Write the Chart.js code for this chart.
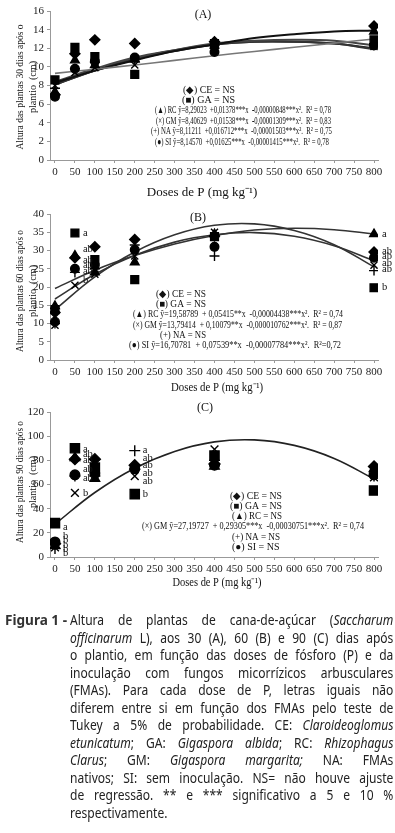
<!DOCTYPE html>
<html>
<head>
<meta charset="utf-8">
<script src="https://cdn.jsdelivr.net/npm/chart.js@4.4.1/dist/chart.umd.min.js"></script>
<style>
  body { margin: 0; background: #fff; }
  #page { position: relative; width: 395px; height: 833px; overflow: hidden; background: #fff; }
  .panel { position: absolute; left: 0; width: 395px; }
  #cap { position: absolute; left: 0; top: 611px; width: 395px; font-family: 'Noto Sans', sans-serif; font-size: 14px; color: #222; }
  #cap .fig { position: absolute; left: 5px; top: 0; font-weight: bold; white-space: nowrap; transform-origin: left center; line-height: 17.5px; color: #333; }
  #cap .ln { position: absolute; left: 70px; width: 376px; white-space: nowrap; line-height: 17.5px; transform-origin: left center; }
</style>
</head>
<body>
<div id="page">
  <div class="panel" style="top:0;height:205px"><canvas id="chartA"></canvas></div>
  <div class="panel" style="top:200px;height:205px"><canvas id="chartB"></canvas></div>
  <div class="panel" style="top:400px;height:202px"><canvas id="chartC"></canvas></div>
  <div id="cap">
    <div class="fig" style="top:0">Figura 1 -</div>
    <div class="ln" style="top:0"><span>Altura de plantas de cana-de-açúcar (<i>Saccharum</i></span></div>
    <div class="ln" style="top:17.5px"><span><i>officinarum</i> L), aos 30 (A), 60 (B) e 90 (C) dias após</span></div>
    <div class="ln" style="top:35px"><span>o plantio, em função das doses de fósforo (P) e da</span></div>
    <div class="ln" style="top:52.5px"><span>inoculação com fungos micorrízicos arbusculares</span></div>
    <div class="ln" style="top:70px"><span>(FMAs). Para cada dose de P, letras iguais não</span></div>
    <div class="ln" style="top:87.5px"><span>diferem entre si em função dos FMAs pelo teste de</span></div>
    <div class="ln" style="top:105px"><span>Tukey a 5% de probabilidade. CE: <i>Claroideoglomus</i></span></div>
    <div class="ln" style="top:122.5px"><span><i>etunicatum</i>; GA: <i>Gigaspora albida</i>; RC: <i>Rhizophagus</i></span></div>
    <div class="ln" style="top:140px"><span><i>Clarus</i>; GM: <i>Gigaspora margarita;</i> NA: FMAs</span></div>
    <div class="ln" style="top:157.5px"><span>nativos; SI: sem inoculação. NS= não houve ajuste</span></div>
    <div class="ln" style="top:175px"><span>de regressão. ** e *** significativo a 5 e 10 %</span></div>
    <div class="ln last" style="top:192.5px"><span>respectivamente.</span></div>
  </div>
</div>
<script>
// doses de P (mg/kg)
const doses = [0, 50, 100, 200, 400, 800];
const curveDoses = [0, 100, 200, 300, 400, 500, 600, 700, 800];
const xTicks = [0, 50, 100, 150, 200, 250, 300, 350, 400, 450, 500, 550, 600, 650, 700, 750, 800];

// (A) 30 dias
const aCE = [7.0, 11.4, 12.9, 12.5, 12.7, 14.4];
const aGA = [8.6, 12.1, 11.1, 9.2, 12.5, 12.9];
const aRC = [7.3, 10.7, 10.2, 10.8, 12.6, 13.8];
const aGM = [8.0, 9.4, 9.9, 10.2, 12.2, 12.2];
const aNA = [7.7, 9.8, 10.5, 10.6, 12.0, 12.5];
const aSI = [6.8, 9.8, 10.6, 11.0, 11.6, 12.3];
const aFitRC = [8.3, 9.6, 10.7, 11.7, 12.4, 13.1, 13.5, 13.8, 13.9];
const aFitGM = [8.4, 9.8, 11.0, 11.8, 12.5, 12.8, 12.9, 12.8, 12.3];
const aFitNA = [8.1, 9.6, 10.9, 11.8, 12.4, 12.7, 12.7, 12.5, 11.9];
const aFitSI = [8.1, 9.6, 10.8, 11.7, 12.4, 12.7, 12.7, 12.5, 12.0];
const aFitLin = [9.3, 9.75, 10.2, 10.7, 11.2, 11.65, 12.1, 12.55, 13.0];

// (B) 60 dias
const bCE = [13.0, 28.0, 31.0, 33.0, 34.0, 29.6];
const bGA = [13.8, 34.8, 27.5, 22.0, 33.8, 19.8];
const bRC = [14.8, 28.6, 24.0, 26.8, 34.5, 34.5];
const bGM = [9.5, 20.5, 23.5, 28.5, 35.0, 26.0];
const bNA = [10.0, 24.0, 25.0, 31.5, 28.5, 24.5];
const bSI = [10.5, 25.0, 26.0, 30.2, 31.0, 28.0];
const bFitRC = [19.6, 24.6, 28.6, 31.8, 34.1, 35.6, 36.1, 35.7, 34.5];
const bFitGM = [13.8, 22.8, 29.6, 34.3, 36.9, 37.3, 35.5, 31.6, 25.5];
const bFitSI = [16.7, 23.5, 28.7, 32.3, 34.3, 34.9, 33.9, 31.3, 27.2];
const bLetters = [
  ['a', 50, 34.8], ['ab', 50, 30.3], ['ab', 50, 27.4], ['ab', 50, 25.9], ['ab', 50, 24.4], ['b', 50, 21.8],
  ['a', 800, 34.5], ['ab', 800, 29.8], ['ab', 800, 28.3], ['ab', 800, 26.6], ['ab', 800, 25.0], ['b', 800, 19.8]
];

// (C) 90 dias
const cCE = [11, 81, 81, 76, 77, 75];
const cGA = [28, 90, 74, 52, 84, 55];
const cRC = [9.5, 82, 65, 75, 75, 73];
const cGM = [8, 53, 66, 67, 89, 66];
const cNA = [7, 67, 67, 88, 80, 67];
const cSI = [12.5, 68, 69, 73, 76, 68];
const cFitGM = [27.2, 53.4, 73.5, 87.4, 95.3, 96.9, 92.4, 81.6, 64.6];
const cLetters = [
  ['a', 0, 25], ['b', 0, 17], ['b', 0, 13.5], ['b', 0, 10], ['b', 0, 6.5], ['b', 0, 3],
  ['a', 50, 89], ['ab', 50, 85], ['ab', 50, 80], ['ab', 50, 73], ['ab', 50, 65.5], ['b', 50, 53],
  ['a', 200, 88.5], ['ab', 200, 82], ['ab', 200, 76], ['ab', 200, 69.5], ['ab', 200, 63], ['b', 200, 52]
];

const serif = '"Liberation Serif", "Times New Roman", serif';

function pointSet(label, vals, style, r) {
  return {
    type: 'scatter', label: label,
    data: doses.map((d, i) => ({ x: d, y: vals[i] })),
    pointStyle: style, pointRadius: r,
    pointBackgroundColor: '#000', pointBorderColor: '#000', pointBorderWidth: 1.4,
    showLine: false, order: 0
  };
}

function fitSet(label, vals, color, w) {
  return {
    type: 'line', label: label,
    data: curveDoses.map((d, i) => ({ x: d, y: vals[i] })),
    borderColor: color, borderWidth: w, pointRadius: 0, tension: 0.4, fill: false, order: 1
  };
}

// draws the panel letter, axis titles, equations and Tukey letters
const textPlugin = {
  id: 'texts',
  afterDatasetsDraw(chart, args, opts) {
    const ctx = chart.ctx;
    ctx.save();
    ctx.fillStyle = '#111';
    ctx.textBaseline = 'middle';
    (opts.notes || []).forEach(n => {
      ctx.font = n.size + 'px ' + serif;
      if (n.rot) {
        ctx.save();
        ctx.translate(n.x, n.y);
        ctx.rotate(-Math.PI / 2);
        ctx.textAlign = 'center';
        ctx.fillText(n.text, 0, 0, n.w);
        ctx.restore();
      } else {
        ctx.textAlign = n.align || 'left';
        ctx.fillText(n.text, n.x, n.y, n.w);
      }
    });
    const xs = chart.scales.x, ys = chart.scales.y;
    ctx.font = '10.5px ' + serif;
    ctx.textAlign = 'left';
    (opts.letters || []).forEach(l => {
      ctx.fillText(l[0], xs.getPixelForValue(l[1]) + 8, ys.getPixelForValue(l[2]));
    });
    ctx.restore();
  }
};

function makeChart(id, cfg) {
  new Chart(document.getElementById(id), {
    type: 'scatter',
    data: { datasets: cfg.datasets },
    options: {
      responsive: true,
      maintainAspectRatio: false,
      animation: false,
      layout: { padding: { top: cfg.top, right: 17, left: 0, bottom: 0 } },
      plugins: {
        legend: { display: false },
        tooltip: { enabled: false },
        texts: { notes: cfg.notes, letters: cfg.letters }
      },
      scales: {
        x: {
          type: 'linear', min: -12.5, max: 810,
          afterBuildTicks: s => { s.ticks = xTicks.map(v => ({ value: v })); },
          afterFit: s => { s.height = 45; },
          ticks: { font: { family: serif, size: 11 }, color: '#222', padding: 3, maxRotation: 0, autoSkip: false },
          grid: { drawOnChartArea: false, tickLength: 3, color: '#999' },
          border: { color: '#999' }
        },
        y: {
          min: 0, max: cfg.yMax,
          afterFit: s => { s.width = 50; },
          ticks: { stepSize: cfg.yStep, font: { family: serif, size: 11 }, color: '#222', padding: 3 },
          grid: { drawOnChartArea: false, tickLength: 3, color: '#999' },
          border: { color: '#999' }
        }
      }
    },
    plugins: [textPlugin]
  });
}

makeChart('chartA', {
  top: 11, yMax: 16, yStep: 2,
  datasets: [
    fitSet('lin', aFitLin, '#777', 1.6),
    fitSet('RC', aFitRC, '#111', 2),
    fitSet('GM', aFitGM, '#444', 2),
    fitSet('NA', aFitNA, '#333', 2),
    fitSet('SI', aFitSI, '#222', 2),
    pointSet('CE', aCE, 'rectRot', 5),
    pointSet('GA', aGA, 'rect', 5.5),
    pointSet('RC', aRC, 'triangle', 5),
    pointSet('GM', aGM, 'crossRot', 5),
    pointSet('NA', aNA, 'cross', 5),
    pointSet('SI', aSI, 'circle', 4.3)
  ],
  notes: [
    { text: '(A)', x: 203, y: 15, size: 12, align: 'center' },
    { text: 'Altura das plantas 30 dias após o', x: 20, y: 87, size: 10.5, w: 125, rot: true },
    { text: 'plantio  (cm)', x: 33, y: 87, size: 10.5, w: 52, rot: true },
    { text: 'Doses de P (mg kg⁻¹)', x: 202, y: 193, size: 13, w: 115, align: 'center' },
    { text: '(◆) CE = NS', x: 183, y: 90, size: 10, w: 52 },
    { text: '(■) GA = NS', x: 182, y: 100, size: 10, w: 53 },
    { text: '(▲) RC ŷ=8,29023  +0,01378***x  -0,00000848***x².  R² = 0,78', x: 155, y: 110.5, size: 10, w: 176 },
    { text: '(×) GM ŷ=8,40629  +0,01538***x  -0,00001309***x².  R² = 0,83', x: 156, y: 121, size: 10, w: 175 },
    { text: '(+) NA ŷ=8,11211  +0,016712***x  -0,00001503***x².  R² = 0,75', x: 151, y: 131.5, size: 10, w: 181 },
    { text: '(●) SI ŷ=8,14570  +0,01625***x  -0,00001415***x².  R² = 0,78', x: 155, y: 142, size: 10, w: 174 }
  ]
});

makeChart('chartB', {
  top: 14, yMax: 40, yStep: 5,
  datasets: [
    fitSet('RC', bFitRC, '#333', 1.6),
    fitSet('GM', bFitGM, '#333', 1.6),
    fitSet('SI', bFitSI, '#333', 1.6),
    pointSet('CE', bCE, 'rectRot', 5),
    pointSet('GA', bGA, 'rect', 5.5),
    pointSet('RC', bRC, 'triangle', 5),
    pointSet('GM', bGM, 'crossRot', 5),
    pointSet('NA', bNA, 'cross', 5),
    pointSet('SI', bSI, 'circle', 4.3)
  ],
  letters: bLetters,
  notes: [
    { text: '(B)', x: 198, y: 18, size: 12, align: 'center' },
    { text: 'Altura das plantas 60 dias após o', x: 20, y: 91, size: 10.5, w: 122, rot: true },
    { text: 'plantio  (cm)', x: 33, y: 91, size: 10.5, w: 52, rot: true },
    { text: 'Doses de P (mg kg⁻¹)', x: 217, y: 188, size: 12, w: 92, align: 'center' },
    { text: '(◆) CE = NS', x: 156, y: 94, size: 10, w: 50 },
    { text: '(■) GA = NS', x: 156, y: 104, size: 10, w: 50 },
    { text: '(▲) RC ŷ=19,58789  + 0,05415**x  -0,00004438***x².  R² = 0,74', x: 133, y: 114, size: 10, w: 210 },
    { text: '(×) GM ŷ=13,79414  + 0,10079**x  -0,000010762***x².  R² = 0,87', x: 133, y: 125, size: 10, w: 209 },
    { text: '(+) NA = NS', x: 160, y: 135, size: 10, w: 46 },
    { text: '(●) SI ŷ=16,70781  + 0,07539**x  -0,00007784***x².  R²=0,72', x: 129, y: 145, size: 10, w: 212 }
  ]
});

makeChart('chartC', {
  top: 12, yMax: 120, yStep: 20,
  datasets: [
    fitSet('GM', cFitGM, '#222', 1.6),
    pointSet('CE', cCE, 'rectRot', 5.5),
    pointSet('GA', cGA, 'rect', 6.5),
    pointSet('RC', cRC, 'triangle', 5.5),
    pointSet('GM', cGM, 'crossRot', 5.5),
    pointSet('NA', cNA, 'cross', 5.5),
    pointSet('SI', cSI, 'circle', 4.8)
  ],
  letters: cLetters,
  notes: [
    { text: '(C)', x: 205, y: 8, size: 12, align: 'center' },
    { text: 'Altura das plantas 90 dias após o', x: 20, y: 82, size: 10.5, w: 122, rot: true },
    { text: 'plantio  (cm)', x: 33, y: 82, size: 10.5, w: 52, rot: true },
    { text: 'Doses de P (mg kg⁻¹)', x: 217, y: 183, size: 12, w: 89, align: 'center' },
    { text: '(◆) CE = NS', x: 230, y: 96, size: 10, w: 52 },
    { text: '(■) GA = NS', x: 230, y: 106, size: 10, w: 52 },
    { text: '(▲) RC = NS', x: 232, y: 116.5, size: 10, w: 50 },
    { text: '(×) GM ŷ=27,19727  + 0,29305***x  -0,00030751***x².  R² = 0,74', x: 142, y: 126.5, size: 10, w: 222 },
    { text: '(+) NA = NS', x: 232, y: 137, size: 10, w: 48 },
    { text: '(●) SI = NS', x: 232, y: 147, size: 10, w: 48 }
  ]
});

// caption: condensed look, each line justified to the same width
function fitCaption() {
  const squeeze = 0.86;
  const box = 320 / squeeze;
  document.querySelectorAll('#cap .ln').forEach(el => {
    const w = el.firstElementChild.getBoundingClientRect().width;
    if (w > box) {
      el.style.width = w + 'px';
      el.style.transform = 'scaleX(' + (320 / w) + ')';
    } else {
      el.style.transform = 'scaleX(' + squeeze + ')';
      if (!el.classList.contains('last')) {
        el.style.textAlign = 'justify';
        el.style.textAlignLast = 'justify';
      }
    }
  });
  const fig = document.querySelector('#cap .fig');
  const fw = fig.getBoundingClientRect().width;
  if (fw > 62) fig.style.transform = 'scaleX(' + (62 / fw) + ')';
}
fitCaption();
</script>
</body>
</html>
